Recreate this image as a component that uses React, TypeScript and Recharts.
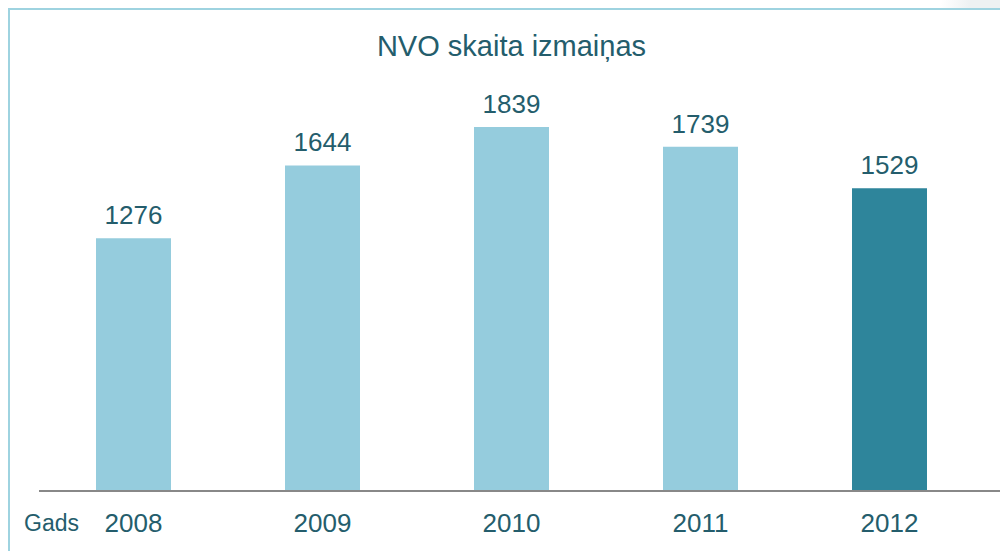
import { Bar, BarChart, Cell, LabelList, XAxis, YAxis } from "recharts";

const years = ["2008", "2009", "2010", "2011", "2012"];
const counts = [1276, 1644, 1839, 1739, 1529];
const highlightYear = "2012";

const data = years.map((year, i) => ({ year, count: counts[i] }));

const textColor = "#245d6c";
const font = "'Liberation Sans', Arial, sans-serif";

const App = () => {
    return (
        <div
            style={{
                position: "absolute",
                left: 0,
                top: 0,
                width: 1000,
                height: 551,
                background: "#fff",
                fontFamily: font,
                overflow: "hidden",
            }}
        >
            <div
                style={{
                    position: "absolute",
                    left: 0,
                    top: 0,
                    width: 1000,
                    height: 8,
                    background:
                        "linear-gradient(100deg, #ffffff 0%, #ffffff 94%, #edf1f2 97%, #edf1f2 100%)",
                }}
            />
            <div
                style={{
                    position: "absolute",
                    left: 8,
                    top: 8,
                    width: 992,
                    height: 543,
                    borderLeft: "2px solid #9ed3e0",
                    borderTop: "2px solid #9ed3e0",
                    boxSizing: "border-box",
                }}
            />
            <div
                style={{
                    position: "absolute",
                    left: 39,
                    top: 30,
                    width: 945,
                    textAlign: "center",
                    fontSize: 29,
                    color: textColor,
                }}
            >
                NVO skaita izmaiņas
            </div>
            <div style={{ position: "absolute", left: 0, top: 0 }}>
                <BarChart
                    width={1000}
                    height={551}
                    data={data}
                    margin={{ top: 95, right: 0, left: 39, bottom: 0 }}
                    barCategoryGap={57}
                >
                    <YAxis hide domain={[0, 2000]} />
                    <XAxis
                        dataKey="year"
                        height={60}
                        padding={{ left: 0, right: 16 }}
                        axisLine={{ stroke: "#888888", strokeWidth: 2 }}
                        tickLine={false}
                        tickMargin={17}
                        tick={{ fill: textColor, fontSize: 26, fontFamily: font }}
                        label={{
                            value: "Gads",
                            position: "insideLeft",
                            offset: -15,
                            fill: textColor,
                            fontSize: 23,
                            fontFamily: font,
                            dy: 2,
                        }}
                    />
                    <Bar dataKey="count" isAnimationActive={false}>
                        {data.map((d) => (
                            <Cell
                                key={d.year}
                                fill={d.year === highlightYear ? "#2e859b" : "#95ccdd"}
                            />
                        ))}
                        <LabelList
                            dataKey="count"
                            position="top"
                            offset={14}
                            fill={textColor}
                            fontSize={26}
                            fontFamily={font}
                        />
                    </Bar>
                </BarChart>
            </div>
        </div>
    );
};

export default App;
